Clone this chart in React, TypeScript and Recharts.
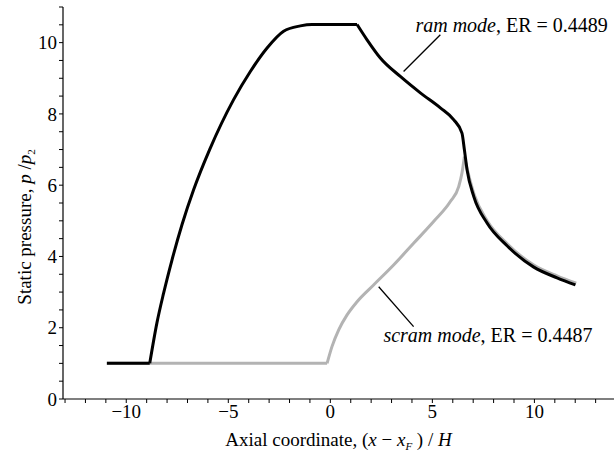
import React from 'react';
import { LineChart, Line, XAxis, YAxis, ReferenceLine, ReferenceDot } from 'recharts';

// Ram-mode wall pressure distribution (ER = 0.4489)
const ramX = [-10.95, -8.85, -8.5, -8.17, -7.76, -7.27, -6.7, -5.92, -4.74, -3.92, -3.1, -2.29, -1.47, -0.9, 1.31, 1.8, 2.45, 3.43, 4.41, 5.39, 6.04, 6.45, 6.57, 6.7, 7.03, 7.68, 8.66, 9.97, 11.11, 12.01];
const ramP = [1.0, 1.0, 2.13, 2.97, 3.9, 4.89, 5.87, 6.99, 8.4, 9.19, 9.85, 10.32, 10.47, 10.51, 10.51, 10.08, 9.57, 9.05, 8.59, 8.17, 7.84, 7.46, 6.99, 6.43, 5.68, 4.94, 4.3, 3.7, 3.4, 3.2];
// indices where the ram curve has a corner
const ramCorners = [1, 14];

// Scram-mode wall pressure distribution (ER = 0.4487)
const scramX = [-10.95, -0.16, 0.08, 0.41, 0.82, 1.31, 2.12, 3.1, 4.08, 5.06, 5.88, 6.29, 6.45, 6.57, 6.72, 7.05, 7.7, 8.68, 9.99, 11.13, 12.05];
const scramP = [1.0, 1.0, 1.47, 1.94, 2.36, 2.73, 3.2, 3.76, 4.37, 4.98, 5.54, 5.96, 6.34, 6.8, 6.42, 5.73, 4.99, 4.35, 3.75, 3.45, 3.25];
// indices where the scram curve has a corner
const scramCorners = [1, 13];

const xTicks = [-13, -12, -11, -10, -9, -8, -7, -6, -5, -4, -3, -2, -1, 0, 1, 2, 3, 4, 5, 6, 7, 8, 9, 10, 11, 12, 13];
const yTicks = [0, 0.5, 1, 1.5, 2, 2.5, 3, 3.5, 4, 4.5, 5, 5.5, 6, 6.5, 7, 7.5, 8, 8.5, 9, 9.5, 10, 10.5, 11];
const xLabelStep = 5;
const yLabelStep = 2;

const ramModeName = 'ram mode';
const ramER = '0.4489';
const scramModeName = 'scram mode';
const scramER = '0.4487';

type Pt = { x: number; p: number };

// split a curve at its corners so each smooth piece is interpolated on its own
const toSegments = (xs: number[], ps: number[], corners: number[]): Pt[][] => {
  const pts = xs.map((x, i) => ({ x, p: ps[i] }));
  const cuts = [0, ...corners, pts.length - 1];
  const segs: Pt[][] = [];
  for (let i = 0; i < cuts.length - 1; i++) segs.push(pts.slice(cuts[i], cuts[i + 1] + 1));
  return segs;
};

const ramSegments = toSegments(ramX, ramP, ramCorners);
const scramSegments = toSegments(scramX, scramP, scramCorners);

const FONT = "'Liberation Serif', 'Times New Roman', Times, serif";
const FS = 19;
const textStyle = { fontFamily: FONT, fontSize: FS };
const noteStyle = { fontFamily: FONT, fontSize: 20 };

const fmt = (v: number) => (v < 0 ? `\u2212${Math.abs(v)}` : `${v}`);

const XTick = (props: any) => {
  const { x, y, payload } = props;
  const v = payload.value;
  if (Math.abs(v % xLabelStep) > 1e-9) return null;
  return (
    <text x={x} y={y} dy="0.71em" textAnchor="middle" style={textStyle} fill="#000">
      {fmt(v)}
    </text>
  );
};

const YTick = (props: any) => {
  const { x, y, payload } = props;
  const v = payload.value;
  if (Math.abs(v % yLabelStep) > 1e-9) return null;
  return (
    <text x={x} y={y} dy="0.35em" textAnchor="end" style={textStyle} fill="#000">
      {fmt(v)}
    </text>
  );
};

const XTitle = (props: any) => {
  const vb = props.viewBox;
  const cx = vb.x + vb.width / 2;
  const y = vb.y + 47;
  return (
    <text x={cx} y={y} textAnchor="middle" style={textStyle} fill="#000">
      Axial coordinate, (<tspan fontStyle="italic">x</tspan> {'\u2212'} <tspan fontStyle="italic">x</tspan>
      <tspan fontStyle="italic" fontSize={11} dy={4}>F</tspan>
      <tspan dy={-4}> ) / </tspan>
      <tspan fontStyle="italic">H</tspan>
    </text>
  );
};

// vertical title, centred a little below the middle of the plot
const YTitle = () => {
  const cx = 31;
  const cy = 227;
  return (
    <text x={0} y={0} transform={`translate(${cx},${cy}) rotate(-90)`} textAnchor="middle" style={textStyle} fill="#000">
      Static pressure, <tspan fontStyle="italic">p</tspan> /<tspan fontStyle="italic">p</tspan>
      <tspan fontSize={11} dy={4}>2</tspan>
    </text>
  );
};

const modeText = (name: string, er: string) => (props: any) => {
  const vb = props.viewBox;
  return (
    <text x={vb.x} y={vb.y} textAnchor="start" style={noteStyle} fill="#000">
      <tspan fontStyle="italic">{name}</tspan>, ER = {er}
    </text>
  );
};

export default function App() {
  return (
    <div style={{ position: 'absolute', left: 0, top: 0, background: '#fff', fontFamily: FONT }}>
      <LineChart width={614} height={454} margin={{ top: 7, right: 0, bottom: 0, left: 0 }}>
        <XAxis
          type="number"
          dataKey="x"
          domain={[-13.1, 13.9]}
          ticks={xTicks}
          allowDataOverflow
          interval={0}
          tickSize={4}
          tickMargin={2}
          height={55}
          stroke="#000"
          axisLine={{ stroke: '#000', strokeWidth: 1.2 }}
          tickLine={{ stroke: '#000', strokeWidth: 1 }}
          tick={<XTick />}
          label={{ content: XTitle }}
        />
        <YAxis
          type="number"
          domain={[0, 11]}
          ticks={yTicks}
          allowDataOverflow
          interval={0}
          tickSize={4}
          tickMargin={2}
          width={63}
          stroke="#000"
          axisLine={{ stroke: '#000', strokeWidth: 1.2 }}
          tickLine={{ stroke: '#000', strokeWidth: 1 }}
          tick={<YTick />}
          label={{ content: YTitle }}
        />
        {scramSegments.map((seg, i) => (
          <Line
            key={`scram-${i}`}
            data={seg}
            dataKey="p"
            type="monotone"
            stroke="#b3b3b3"
            strokeWidth={3}
            strokeLinejoin="round"
            dot={false}
            activeDot={false}
            isAnimationActive={false}
          />
        ))}
        {ramSegments.map((seg, i) => (
          <Line
            key={`ram-${i}`}
            data={seg}
            dataKey="p"
            type="monotone"
            stroke="#000"
            strokeWidth={3}
            strokeLinejoin="round"
            dot={false}
            activeDot={false}
            isAnimationActive={false}
          />
        ))}
        <ReferenceLine
          segment={[{ x: 5.39, y: 10.22 }, { x: 3.59, y: 9.19 }]}
          stroke="#000"
          strokeWidth={1.3}
          ifOverflow="visible"
        />
        <ReferenceLine
          segment={[{ x: 4.08, y: 2.03 }, { x: 2.37, y: 3.15 }]}
          stroke="#000"
          strokeWidth={1.3}
          ifOverflow="visible"
        />
        <ReferenceDot
          x={4.17}
          y={10.31}
          r={0}
          fill="none"
          stroke="none"
          ifOverflow="visible"
          label={{ content: modeText(ramModeName, ramER) }}
        />
        <ReferenceDot
          x={2.6}
          y={1.6}
          r={0}
          fill="none"
          stroke="none"
          ifOverflow="visible"
          label={{ content: modeText(scramModeName, scramER) }}
        />
      </LineChart>
    </div>
  );
}
